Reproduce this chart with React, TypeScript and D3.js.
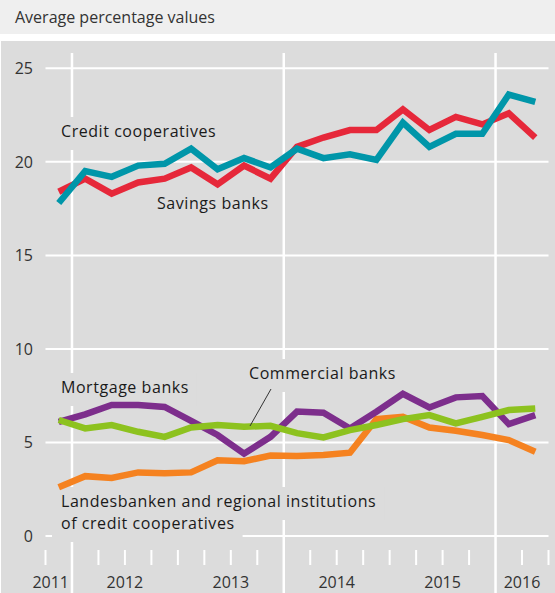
import React, { useEffect } from "react";
import * as d3 from "d3";

const W = 555;
const H = 593;

const quarters = [
  "2011Q4",
  "2012Q1", "2012Q2", "2012Q3", "2012Q4",
  "2013Q1", "2013Q2", "2013Q3", "2013Q4",
  "2014Q1", "2014Q2", "2014Q3", "2014Q4",
  "2015Q1", "2015Q2", "2015Q3", "2015Q4",
  "2016Q1", "2016Q2",
];

const years = [2011, 2012, 2013, 2014, 2015, 2016];
const yTicks = [0, 5, 10, 15, 20, 25];

const savingsBanks = [18.4, 19.1, 18.3, 18.9, 19.1, 19.7, 18.8, 19.8, 19.1, 20.8, 21.3, 21.7, 21.7, 22.8, 21.7, 22.4, 22.0, 22.6, 21.3];
const creditCooperatives = [17.8, 19.5, 19.2, 19.8, 19.9, 20.7, 19.6, 20.2, 19.7, 20.7, 20.2, 20.4, 20.1, 22.1, 20.8, 21.5, 21.5, 23.6, 23.2];
const landesbanken = [2.6, 3.2, 3.1, 3.4, 3.35, 3.4, 4.05, 4.0, 4.3, 4.27, 4.33, 4.45, 6.25, 6.37, 5.8, 5.63, 5.4, 5.13, 4.5];
const mortgageBanks = [6.1, 6.5, 7.0, 7.0, 6.9, 6.15, 5.4, 4.4, 5.3, 6.65, 6.59, 5.75, 6.64, 7.6, 6.87, 7.41, 7.48, 5.98, 6.46];
const commercialBanks = [6.2, 5.75, 5.93, 5.57, 5.3, 5.8, 5.93, 5.84, 5.89, 5.5, 5.27, 5.66, 5.93, 6.25, 6.46, 6.02, 6.37, 6.73, 6.82];

const series = [
  { name: "Savings banks", values: savingsBanks, color: "#e6283a" },
  { name: "Credit cooperatives", values: creditCooperatives, color: "#0096a9" },
  { name: "Landesbanken", values: landesbanken, color: "#f58220" },
  { name: "Mortgage banks", values: mortgageBanks, color: "#7d2e8c" },
  { name: "Commercial banks", values: commercialBanks, color: "#8dc21f" },
];

const labels = [
  { lines: ["Credit cooperatives"], x: 61, y: 137 },
  { lines: ["Savings banks"], x: 157, y: 209 },
  { lines: ["Mortgage banks"], x: 61, y: 393 },
  { lines: ["Commercial banks"], x: 249, y: 379 },
  { lines: ["Landesbanken and regional institutions", "of credit cooperatives"], x: 61, y: 507 },
];

const FONT = "'Open Sans', 'Noto Sans', sans-serif";
const PLOT_BG = "#dcdcdc";
const LABEL_SIZE = 16;
const LABEL_SPACING = 0.55;
const LINE_GAP = 22;

function measure(text: string, size: number, spacing = 0): number {
  if (typeof document === "undefined") return text.length * (size * 0.53 + spacing);
  const c = document.createElement("canvas");
  const ctx = c.getContext("2d");
  if (!ctx) return text.length * (size * 0.53 + spacing);
  ctx.font = `${size}px 'Open Sans'`;
  return ctx.measureText(text).width + spacing * text.length;
}

export default function App() {
  useEffect(() => {
    document.body.style.margin = "0";
  }, []);

  const x = d3.scaleLinear().domain([0, quarters.length]).range([45.5, 548.5]);
  const y = d3.scaleLinear().domain([0, 25]).range([536, 68.3]);
  const line = d3
    .line<number>()
    .x((_, i) => x(i + 0.5))
    .y((d) => y(d));

  const majorIdx = [1, 9, 17];
  const boundaries = d3.range(0, quarters.length + 1);

  return (
    <svg
      width={W}
      height={H}
      style={{ display: "block", position: "absolute", left: 0, top: 0 }}
      fontFamily={FONT}
    >
      <rect x={0} y={0} width={W} height={H} fill="#ffffff" />
      <rect x={0} y={0} width={W} height={34} fill="#efefef" />
      <text x={15} y={23} fontSize={16} fill="#333">
        Average percentage values
      </text>
      <rect x={1} y={41} width={W - 1} height={H - 41} fill={PLOT_BG} />

      {/* horizontal gridlines */}
      {yTicks.map((t) => (
        <g key={t}>
          <line x1={x(0)} x2={x(quarters.length)} y1={y(t)} y2={y(t)} stroke="#fff" strokeWidth={2} />
          <text x={33} y={y(t) + 6} fontSize={16} fill="#333" textAnchor="end">
            {t}
          </text>
        </g>
      ))}

      {/* vertical lines and ticks */}
      {boundaries.map((b) =>
        majorIdx.includes(b) ? (
          <line key={b} x1={x(b)} x2={x(b)} y1={53} y2={H} stroke="#fff" strokeWidth={2.5} />
        ) : (
          <line key={b} x1={x(b)} x2={x(b)} y1={550} y2={565} stroke="#fff" strokeWidth={2} />
        )
      )}

      {/* year labels */}
      {years.map((yr) => {
        const s = Math.max(0, (yr - 2012) * 4 + 1);
        const e = Math.min(quarters.length, (yr - 2012) * 4 + 5);
        const span = x(e) - x(s);
        const w = measure(String(yr), 16);
        if (span < w + 4) {
          return (
            <text key={yr} x={x(e) - 3} y={588} fontSize={16} fill="#333" textAnchor="end">
              {yr}
            </text>
          );
        }
        return (
          <text key={yr} x={(x(s) + x(e)) / 2} y={588} fontSize={16} fill="#333" textAnchor="middle">
            {yr}
          </text>
        );
      })}

      {/* label boxes */}
      {labels.map((l) =>
        l.lines.map((t, i) => (
          <rect
            key={"b" + t}
            x={l.x - 9}
            y={l.y + i * LINE_GAP - 20}
            width={measure(t, LABEL_SIZE, LABEL_SPACING) + 17}
            height={33}
            fill={PLOT_BG}
          />
        ))
      )}

      {/* series lines */}
      {series.map((s) => (
        <path
          key={s.name}
          d={line(s.values) || ""}
          fill="none"
          stroke={s.color}
          strokeWidth={6.5}
          strokeLinejoin="miter"
          strokeLinecap="butt"
        />
      ))}

      {/* leader line for commercial banks */}
      <line x1={271} y1={389} x2={250} y2={426} stroke="#333" strokeWidth={1} />

      {labels.map((l) => (
        <text
          key={l.lines[0]}
          x={l.x}
          y={l.y}
          fontSize={LABEL_SIZE}
          letterSpacing={LABEL_SPACING}
          fill="#1a1a1a"
        >
          {l.lines.map((t, i) => (
            <tspan key={t} x={l.x} dy={i === 0 ? 0 : LINE_GAP}>
              {t}
            </tspan>
          ))}
        </text>
      ))}
    </svg>
  );
}
